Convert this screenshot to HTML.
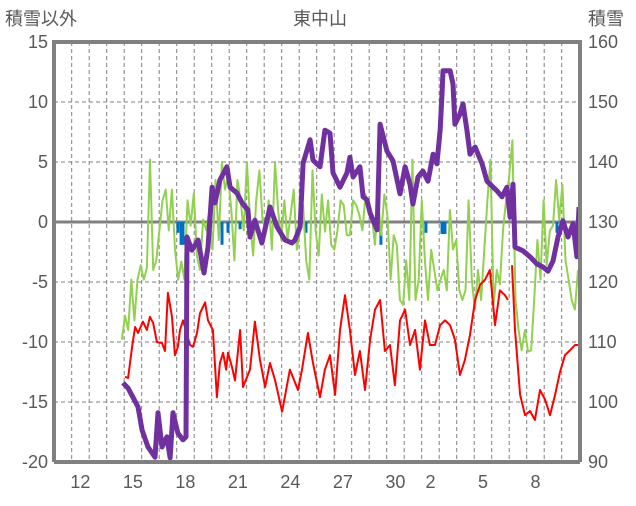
<!DOCTYPE html>
<html><head><meta charset="utf-8"><style>
html,body{margin:0;padding:0;background:#fff;}
svg text{font-family:"Liberation Sans","Noto Sans CJK JP",sans-serif;fill:#595959;}
</style></head><body>
<svg id="c" width="636" height="501" xmlns="http://www.w3.org/2000/svg">
<text x="5" y="25" font-size="18">積雪以外</text>
<text x="320" y="25" font-size="18" text-anchor="middle">東中山</text>
<text x="588" y="25" font-size="18">積雪</text>
<g id="grid"></g><g id="bars"></g><g id="lines"></g><g id="axes"></g>
</svg>
<script>
const xTickLabels=["12","15","18","21","24","27","30","2","5","8"];
const xTickDays=[0,3,6,9,12,15,18,20,23,26];
const leftTicks=[15,10,5,0,-5,-10,-15,-20];
const rightTicks=[160,150,140,130,120,110,100,90];
const redT=[3.05,3.22,3.45,3.62,3.79,4.07,4.30,4.47,4.65,4.87,5.16,5.33,5.50,5.73,5.90,6.07,6.19,6.36,6.76,6.93,7.16,7.33,7.62,7.79,8.07,8.30,8.47,8.65,8.82,8.93,9.16,9.33,9.62,9.79,10.19,10.47,10.76,11.05,11.33,11.62,12.02,12.47,12.93,13.16,13.50,13.79,14.19,
14.47,14.76,15.05,15.33,15.62,15.90,16.19,16.47,16.76,17.05,17.33,17.62,17.90,18.19,18.47,18.76,19.05,19.33,19.62,19.90,20.19,20.47,20.76,21.05,21.33,21.62,21.90,22.19,22.47,22.76,23.05,23.33,23.62,23.90,24.19,24.47,24.76,24.93,
25.05,25.16,25.33,25.62,25.90,26.19,26.47,26.76,27.05,27.33,27.62,27.90,28.19,28.47,28.76,28.93];
const redV=[-12.9,-13,-10.4,-8.75,-9.25,-8.3,-9,-7.9,-8.4,-10,-10.1,-10.75,-5.9,-7.9,-11.1,-10.4,-9,-8.2,-10.25,-10.4,-9.25,-7.6,-6.7,-8.2,-9,-14.6,-11.75,-10.9,-12.3,-10.9,-12.1,-13.2,-9,-13.75,-12.3,-8.3,-11.5,-13.75,-11.75,-13.2,-15.8,-12.3,-14,-12.3,-9.25,-11.75,-14.6,
-12.3,-11.1,-14.4,-9,-6.1,-9,-12.75,-10.75,-14,-9.8,-7.3,-6.5,-10.75,-10.25,-13.6,-8.2,-7.3,-10.25,-9,-12.3,-8.2,-10.25,-10.25,-8.6,-8.2,-8.6,-9.8,-12.75,-11.5,-9.4,-6.5,-5.25,-4.8,-4,-8.6,-5.7,-6.1,-6.5,
null,-3.6,-9,-14.4,-16.1,-15.75,-16.5,-14,-14.8,-16.1,-14.4,-12.5,-11.1,-10.7,-10.25,-10.25];
const greenStart=2.87, greenEnd=28.93;
const greenV=[-9.8,-7.8,-9,-4.8,-8.2,-4.8,-3.6,-4.8,-3.8,5.2,-4,-3.2,-0.7,1.8,2.7,-0.7,2.7,-2.3,-4.8,-3.3,-4.8,1.8,-0.3,2.4,-2.8,-4,0.2,-0.7,1,-2.3,3.5,-1.5,5,2.7,3.9,1,-3.2,3.5,1.8,-0.7,5,0.2,-2.8,1.8,4.3,0.2,-0.7,1.8,-2.3,5,1,-1.5,1.8,-1.5,0.6,2.7,-2.3,-0.7,1.4,-3.2,-4.8,4.3,-0.7,-2.8,2.3,-0.8,1.8,-1.9,-2.3,-0.7,1.8,1.4,-1.1,-1.1,1.8,1.4,0.6,-0.7,2.3,1.4,0.6,-1.9,1.8,-1.1,2.3,0.6,-4.8,-1.1,-1.9,-6.5,-6.9,-3.2,-6.5,5.2,-6.5,-4.8,1.8,-3.2,-6.5,-2.3,-4,-5.7,-4.8,-4,-5.7,1,-2.3,-1.5,-5.7,-6.5,-5.7,1.8,-4.8,-7.3,-4,-6.5,-2.3,1.8,5.2,-6.9,-4,-5.2,-0.7,1.8,3.9,6.8,-6.5,-9,-10.7,-9,-10.8,-10.7,-6.5,-1.5,-4.8,1.8,-3.6,-0.7,-0.3,3.5,0.2,3.1,-3.2,-4.8,-6.5,-7.3,-4];
const snowT=[2.93,3.22,3.50,3.79,4.02,4.36,4.76,4.93,5.16,5.44,5.62,5.79,6.07,6.36,6.53,6.59,6.87,7.22,7.56,7.79,8.02,8.19,8.47,8.87,9.05,9.45,9.73,10.07,10.19,10.47,10.87,11.33,11.73,12.19,12.59,12.76,13.05,13.22,13.62,13.79,14.19,14.47,14.76,14.93,15.33,15.73,15.90,16.08,16.47,16.65,16.87,17.05,17.45,17.62,18.02,18.36,18.76,19.05,19.33,19.50,19.79,20.07,20.36,20.65,20.87,21.05,21.16,21.22,21.62,21.79,21.90,22.19,22.36,22.59,22.76,23.05,23.45,23.73,24.30,24.59,24.87,25.05,25.22,25.33,25.79,26.19,26.59,26.93,27.22,27.50,27.79,28.07,28.36,28.65,28.87,28.99];
const snowV=[103.2,102.3,100.8,99.2,95.3,92.5,90.8,98.2,92.5,94.2,90.7,98.2,94.8,93.7,94.2,127.5,125.3,127,121.5,125.8,135.8,133.2,137,139.2,135.8,134.8,133.2,132,127.5,130.3,126.5,132.5,129.2,127,126.5,127,129.2,139.8,143.7,140.3,139.2,145.3,144.8,138.2,135.8,138.2,140.8,137.5,139.2,134.2,133.7,131.5,128.7,146.3,141.8,140.2,134.7,139.2,136.3,133,137.5,138.5,136.8,141.3,139.7,145.2,151.3,155.2,155.2,153,146.3,148,149.7,145.2,141.3,142.5,139.7,136.8,135.2,134.2,135.8,130.8,136.3,125.8,125.2,124.2,123,122.5,121.8,123.5,127.5,130.2,127.5,129.7,124.2,132.5];
const barT=[6.07,6.25,6.36,8.59,8.93,9.62,13.39,17.67,20.24,21.16,21.33,27.73];
const barV=[-0.9,-1.9,-1.9,-1.9,-0.9,-0.6,-0.9,-1.9,-0.9,-1.0,-1.0,-0.9];

const NS="http://www.w3.org/2000/svg";
const L=54,R=580,T=42,B=462;
const x=d=>71.7+17.5*d;
const yL=v=>222-12*v;
const yR=v=>42+6*(160-v);
function mk(tag,attrs,parent){const e=document.createElementNS(NS,tag);for(const k in attrs)e.setAttribute(k,attrs[k]);document.getElementById(parent).appendChild(e);return e;}
// grid
for(let d=0;d<=28;d++){
 const g=mk('line',{x1:x(d),x2:x(d),y1:T,y2:B,stroke:'#808080','stroke-width':1,'stroke-dasharray':'4,3'},'grid');
 
 
}
leftTicks.forEach(v=>{
 if(v===15||v===-20)return;
 const g=mk('line',{x1:L,x2:R,y1:yL(v),y2:yL(v),stroke:v===0?'#808080':'#808080','stroke-width':v===0?3:1,'stroke-dasharray':v===0?'none':'4,3'},'grid');
 
 
});
// bars
barT.forEach((t,i)=>{
 const y0=yL(0),y1=yL(barV[i]);
 const b=mk('rect',{x:x(t)-1.5,y:Math.min(y0,y1),width:3,height:Math.abs(y1-y0),fill:'#0070c0'},'bars');
 
 
});
function path(ts,vs,sc){let d='',pen=false;ts.forEach((t,i)=>{const v=vs[i];if(v===null){pen=false;return;}d+=(pen?'L':'M')+x(t).toFixed(1)+','+sc(v).toFixed(1);pen=true;});return d;}
const gT=greenV.map((v,i)=>greenStart+(greenEnd-greenStart)*i/(greenV.length-1));
const gp=mk('path',{d:path(gT,greenV,yL),fill:'none',stroke:'#92d050','stroke-width':2,'stroke-linejoin':'round'},'lines');


const rp=mk('path',{d:path(redT,redV,yL),fill:'none',stroke:'#ff0000','stroke-width':2,'stroke-linejoin':'round'},'lines');


const sp=mk('path',{d:path(snowT,snowV,yR),fill:'none',stroke:'#7030a0','stroke-width':5,'stroke-linejoin':'round'},'lines');


// frame
const fr=mk('path',{d:`M${L},${B}L${L},${T}L${R},${T}L${R},${B}`,fill:'none',stroke:'#808080','stroke-width':4},'axes');


const xb=mk('line',{x1:L,x2:R,y1:B,y2:B,stroke:'#808080','stroke-width':4},'axes');


leftTicks.forEach(v=>{
 const t=mk('text',{x:48,y:yL(v)+6,'font-size':18,'text-anchor':'end'},'axes');t.textContent=v;
 
 
});
rightTicks.forEach(v=>{
 const t=mk('text',{x:588,y:yR(v)+6,'font-size':18},'axes');t.textContent=v;
 
 
});
xTickLabels.forEach((s,i)=>{
 const t=mk('text',{x:x(xTickDays[i]+0.5),y:488,'font-size':18,'text-anchor':'middle'},'axes');t.textContent=s;
 
 
});
</script>
</body></html>
